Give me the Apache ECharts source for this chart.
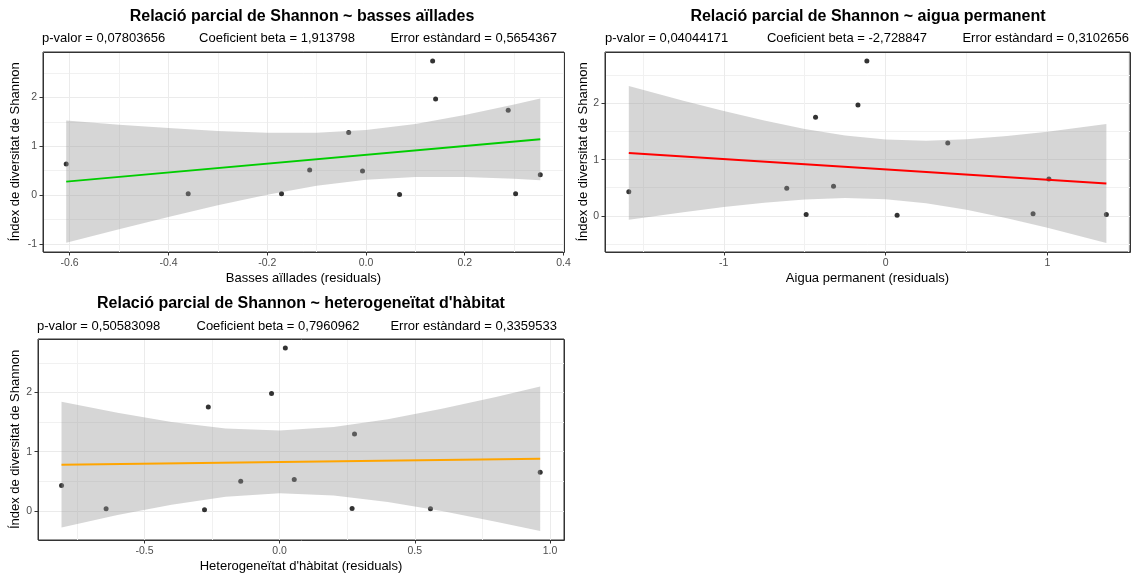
<!DOCTYPE html>
<html><head><meta charset="utf-8">
<script src="https://cdn.jsdelivr.net/npm/echarts@6/dist/echarts.min.js"></script>
<style>html,body{margin:0;padding:0;background:#fff}#c{width:1132px;height:579px}</style>
</head><body><div id="c"></div>
<script>
// ---------- Panel 1: basses aïllades ----------
const X1 = [-0.607,-0.360,-0.171,-0.114,-0.035,-0.007,0.068,0.135,0.141,0.288,0.303,0.353];
const Y1 = [0.635,0.026,0.026,0.513,1.284,0.493,0.013,2.744,1.967,1.737,0.026,0.418];
const L1X = [-0.607, 0.353];
const L1Y = [0.276, 1.142];
const B1X  = [-0.607,-0.5,-0.4,-0.3,-0.2,-0.1,0,0.1,0.2,0.3,0.353];
const B1HI = [1.526,1.442,1.372,1.313,1.277,1.277,1.334,1.458,1.638,1.854,1.979];
const B1LO = [-0.974,-0.698,-0.446,-0.207,0.009,0.189,0.314,0.370,0.370,0.334,0.305];
const XT1 = ['-0.6','-0.4','-0.2','0.0','0.2','0.4'];
const YT1 = ['-1','0','1','2'];

// ---------- Panel 2: aigua permanent ----------
const X2 = [-1.587,-0.611,-0.491,-0.433,-0.322,-0.171,-0.116,0.071,0.384,0.911,1.009,1.364];
const Y2 = [0.430,0.490,0.024,1.753,0.524,1.970,2.753,0.012,1.294,0.035,0.653,0.024];
const L2X = [-1.587, 1.364];
const L2Y = [1.118, 0.575];
const B2X  = [-1.587,-1.25,-1,-0.75,-0.5,-0.25,0,0.25,0.5,0.75,1,1.364];
const B2HI = [2.308,2.048,1.865,1.695,1.545,1.428,1.356,1.336,1.361,1.419,1.497,1.632];
const B2LO = [-0.072,0.064,0.155,0.233,0.291,0.316,0.296,0.224,0.107,-0.043,-0.213,-0.482];
const XT2 = ['-1','0','1'];
const YT2 = ['0','1','2'];

// ---------- Panel 3: heterogeneïtat d'hàbitat ----------
const X3 = [-0.807,-0.642,-0.278,-0.264,-0.144,-0.030,0.021,0.054,0.268,0.277,0.558,0.964];
const Y3 = [0.427,0.034,0.017,1.753,0.500,1.983,2.747,0.528,0.039,1.298,0.034,0.652];
const L3X = [-0.807, 0.964];
const L3Y = [0.780, 0.880];
const B3X  = [-0.807,-0.6,-0.4,-0.2,0,0.2,0.4,0.6,0.8,0.964];
const B3HI = [1.840,1.656,1.502,1.392,1.356,1.414,1.548,1.724,1.924,2.098];
const B3LO = [-0.280,-0.072,0.104,0.238,0.296,0.260,0.150,-0.004,-0.182,-0.338];
const XT3 = ['-0.5','0.0','0.5','1.0'];
const YT3 = ['0','1','2'];

const TITLES = ['Relació parcial de Shannon ~ basses aïllades','Relació parcial de Shannon ~ aigua permanent',"Relació parcial de Shannon ~ heterogeneïtat d'hàbitat"];
const PVAL = ['p-valor = 0,07803656','p-valor = 0,04044171','p-valor = 0,50583098'];
const BETA = ['Coeficient beta = 1,913798','Coeficient beta = -2,728847','Coeficient beta = 0,7960962'];
const SE = ['Error estàndard = 0,5654367','Error estàndard = 0,3102656','Error estàndard = 0,3359533'];
const XNAMES = ['Basses aïllades (residuals)','Aigua permanent (residuals)',"Heterogeneïtat d'hàbitat (residuals)"];
const YNAME = 'Índex de diversitat de Shannon';

const FONT = '"Liberation Sans", Arial, Helvetica, sans-serif';

const panels = [
  {grid:{left:43,top:52,width:521,height:200}, x:X1,y:Y1,lx:L1X,ly:L1Y,bx:B1X,bhi:B1HI,blo:B1LO,color:'#00CD00',
   xr:[-0.654,0.401], yr:[-1.165,2.93], xt:XT1, yt:YT1,
   tx:302, ty:17, sy:38, sl:42, sc:277, sr:557, yx:15, xy:278},
  {grid:{left:605,top:52,width:525,height:200}, x:X2,y:Y2,lx:L2X,ly:L2Y,bx:B2X,bhi:B2HI,blo:B2LO,color:'#FF0000',
   xr:[-1.734,1.510], yr:[-0.644,2.915], xt:XT2, yt:YT2,
   tx:868, ty:17, sy:38, sl:605, sc:847, sr:1129, yx:583, xy:278},
  {grid:{left:38,top:339,width:526,height:201}, x:X3,y:Y3,lx:L3X,ly:L3Y,bx:B3X,bhi:B3HI,blo:B3LO,color:'#FFA500',
   xr:[-0.894,1.052], yr:[-0.492,2.901], xt:XT3, yt:YT3,
   tx:301, ty:304, sy:326, sl:37, sc:278, sr:557, yx:15, xy:566}
];

function fmt(labels, v) {
  for (const l of labels) if (Math.abs(Number(l) - v) < 1e-9) return l;
  return '';
}
// returns [minorAxis, mainAxis]; minor first so major grid lines are drawn over it
function axisPair(k, range, labels, isX) {
  const majors = labels.map(Number);
  const step = Math.abs(majors[1] - majors[0]);
  const base = {type:'value', gridIndex:k, min:range[0], max:range[1]};
  const mn = Object.assign({}, base, {
    position: isX ? 'top' : 'right',
    minInterval:step/2, maxInterval:step/2, splitNumber:8,
    axisLine:{show:false, onZero:false}, axisTick:{show:false}, axisLabel:{show:false},
    splitLine:{show:true, lineStyle:{color:'#F1F1F1', width:1}}
  });
  const main = Object.assign({}, base, {
    position: isX ? 'bottom' : 'left',
    minInterval:step, maxInterval:step, splitNumber:5,
    axisLine:{show:false, onZero:false},
    axisTick:{show:true, customValues:majors, length:3.5, lineStyle:{color:'#333333', width:1}},
    axisLabel:{show:true, customValues:majors, formatter:v=>fmt(labels,v), color:'#4D4D4D',
               fontSize:10.5, fontFamily:FONT, margin:6},
    splitLine:{show:true, lineStyle:{color:'#EBEBEB', width:1}},
    minorTick:{show:false}, minorSplitLine:{show:false}
  });
  return [mn, main];
}

const grids = [], xAxes = [], yAxes = [], series = [], graphics = [];
panels.forEach((p, k) => {
  grids.push(Object.assign({show:true, borderColor:'#333333', borderWidth:1, backgroundColor:'#ffffff',
    containLabel:false, outerBoundsMode:'none'}, p.grid));
  xAxes.push(...axisPair(k, p.xr, p.xt, true));
  yAxes.push(...axisPair(k, p.yr, p.yt, false));
  const ai = 2 * k + 1;
  series.push({type:'scatter', xAxisIndex:ai, yAxisIndex:ai, silent:true, z:2,
    data:p.x.map((v,i)=>[v,p.y[i]]), symbolSize:5, itemStyle:{color:'#000000'}});
  series.push({type:'custom', xAxisIndex:ai, yAxisIndex:ai, silent:true, z:3,
    data:p.bx.map((v,i)=>[v,p.blo[i],p.bhi[i]]), encode:{x:0, y:[1,2]},
    renderItem:(params, api) => {
      if (params.dataIndex !== 0) return null;
      const up = p.bx.map((v,i)=>api.coord([v,p.bhi[i]]));
      const lo = p.bx.map((v,i)=>api.coord([v,p.blo[i]])).reverse();
      return {type:'polygon', shape:{points:up.concat(lo)}, style:{fill:'rgba(153,153,153,0.4)'}};
    }});
  series.push({type:'line', xAxisIndex:ai, yAxisIndex:ai, silent:true, z:4,
    data:p.lx.map((v,i)=>[v,p.ly[i]]), symbol:'none', lineStyle:{color:p.color, width:2}});

  // panel frame drawn on top so grid lines at the range ends cannot hide it
  graphics.push({type:'rect', silent:true, z:100,
    shape:{x:p.grid.left + 0.5, y:p.grid.top + 0.5, width:p.grid.width, height:p.grid.height},
    style:{fill:null, stroke:'#333333', lineWidth:1}});

  const txt = (x,y,t,opt) => graphics.push({type:'text', x, y, silent:true,
    style:Object.assign({text:t, fill:'#000', font:'13px '+FONT, textAlign:'left', textVerticalAlign:'middle'}, opt||{})});
  txt(p.tx, p.ty, TITLES[k], {font:'bold 16px '+FONT, textAlign:'center'});
  txt(p.sl, p.sy, PVAL[k], {textAlign:'left'});
  txt(p.sc, p.sy, BETA[k], {textAlign:'center'});
  txt(p.sr, p.sy, SE[k], {textAlign:'right'});
  txt(p.grid.left + p.grid.width/2, p.xy, XNAMES[k], {textAlign:'center'});
  graphics.push({type:'text', x:p.yx, y:p.grid.top + p.grid.height/2, rotation:Math.PI/2, silent:true,
    style:{text:YNAME, fill:'#000', font:'13px '+FONT, textAlign:'center', textVerticalAlign:'middle'}});
});

const chart = echarts.init(document.getElementById('c'), null, {renderer:'canvas'});
chart.setOption({
  animation:false,
  backgroundColor:'#ffffff',
  textStyle:{fontFamily:FONT},
  grid:grids, xAxis:xAxes, yAxis:yAxes, series:series, graphic:graphics
});
</script></body></html>
